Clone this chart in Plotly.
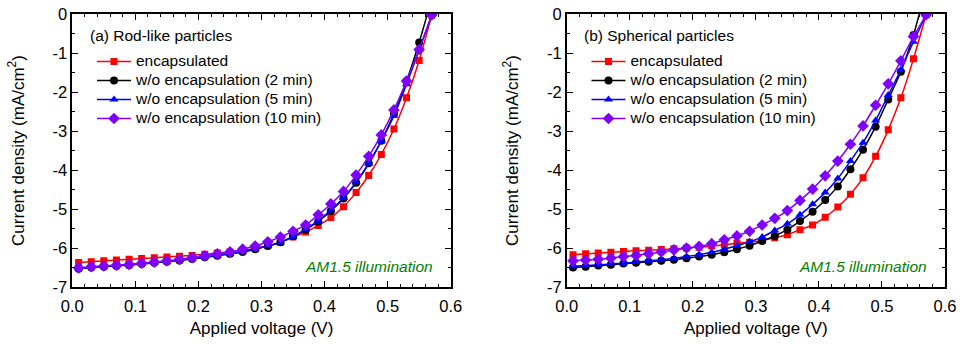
import plotly.graph_objects as go

V = [0.01, 0.03, 0.05, 0.07, 0.09, 0.11, 0.13, 0.15, 0.17, 0.19, 0.21, 0.23, 0.25, 0.27, 0.29,
     0.31, 0.33, 0.35, 0.37, 0.39, 0.41, 0.43, 0.45, 0.47, 0.49, 0.51, 0.53, 0.55, 0.57]

# (a) Rod-like particles
a_enc = [-6.37, -6.35, -6.33, -6.31, -6.29, -6.27, -6.25, -6.23, -6.21, -6.19, -6.16, -6.13, -6.10, -6.06, -6.01,
         -5.94, -5.85, -5.72, -5.59, -5.42, -5.22, -4.94, -4.58, -4.14, -3.60, -2.95, -2.15, -1.19, -0.03]
a_2min = [-6.53, -6.50, -6.48, -6.46, -6.44, -6.41, -6.38, -6.35, -6.32, -6.28, -6.24, -6.20, -6.15, -6.10, -6.03,
          -5.95, -5.85, -5.70, -5.53, -5.32, -5.05, -4.73, -4.33, -3.83, -3.25, -2.56, -1.72, -0.73, 0.40]
a_5min = [-6.52, -6.49, -6.47, -6.45, -6.43, -6.40, -6.37, -6.34, -6.31, -6.27, -6.23, -6.19, -6.14, -6.09, -6.02,
          -5.95, -5.86, -5.71, -5.52, -5.30, -5.03, -4.71, -4.31, -3.84, -3.26, -2.61, -1.80, -0.92, -0.02]
a_10min = [-6.51, -6.48, -6.46, -6.44, -6.42, -6.39, -6.36, -6.33, -6.29, -6.25, -6.20, -6.15, -6.10, -6.03, -5.95,
           -5.84, -5.72, -5.57, -5.41, -5.15, -4.87, -4.55, -4.13, -3.65, -3.10, -2.46, -1.72, -0.91, -0.02]

# (b) Spherical particles
b_enc = [-6.17, -6.15, -6.13, -6.11, -6.09, -6.07, -6.06, -6.04, -6.02, -6.00, -5.98, -5.95, -5.92, -5.88, -5.85,
         -5.81, -5.74, -5.66, -5.53, -5.41, -5.21, -4.95, -4.62, -4.20, -3.65, -2.97, -2.15, -1.15, -0.02]
b_2min = [-6.50, -6.48, -6.45, -6.43, -6.40, -6.38, -6.35, -6.33, -6.30, -6.26, -6.22, -6.17, -6.11, -6.03, -5.94,
          -5.82, -5.69, -5.53, -5.31, -5.07, -4.77, -4.42, -3.98, -3.48, -2.89, -2.19, -1.48, -0.54, 0.66]
b_5min = [-6.47, -6.45, -6.43, -6.41, -6.39, -6.36, -6.33, -6.30, -6.27, -6.22, -6.17, -6.11, -6.03, -5.94, -5.84,
          -5.72, -5.55, -5.38, -5.15, -4.88, -4.58, -4.22, -3.77, -3.30, -2.73, -2.08, -1.43, -0.71, -0.02]
b_10min = [-6.33, -6.31, -6.29, -6.26, -6.22, -6.19, -6.15, -6.10, -6.05, -6.00, -5.96, -5.89, -5.79, -5.69, -5.57,
           -5.41, -5.24, -5.04, -4.78, -4.49, -4.15, -3.77, -3.34, -2.87, -2.34, -1.79, -1.20, -0.58, -0.02]

names = ["encapsulated", "w/o encapsulation (2 min)", "w/o encapsulation (5 min)", "w/o encapsulation (10 min)"]
colors = ["#ff0000", "#000000", "#0000ff", "#8000ff"]
symbols = ["square", "circle", "triangle-up", "diamond"]
msizes = [7, 8, 8, 9]

x_ticks = [0.0, 0.1, 0.2, 0.3, 0.4, 0.5, 0.6]
x_ticktext = ["0.0", "0.1", "0.2", "0.3", "0.4", "0.5", "0.6"]
y_ticks = [0, -1, -2, -3, -4, -5, -6, -7]
y_ticktext = ["0", "-1", "-2", "-3", "-4", "-5", "-6", "-7"]

FONT = "Liberation Sans, Arial, sans-serif"

fig = go.Figure()

panels = [
    ([a_enc, a_2min, a_5min, a_10min], "x", "y", "legend"),
    ([b_enc, b_2min, b_5min, b_10min], "x2", "y2", "legend2"),
]
for series, xa, ya, lg in panels:
    for i, ys in enumerate(series):
        fig.add_trace(go.Scatter(
            x=V, y=ys, xaxis=xa, yaxis=ya,
            name='<span style="font-size:15.5px">' + names[i] + '</span>', legend=lg,
            mode="lines+markers",
            line=dict(color=colors[i], width=1.5, shape="spline", smoothing=0.6),
            marker=dict(symbol=symbols[i], size=msizes[i], color=colors[i]),
            cliponaxis=True,
        ))

W, H = 963, 344
T, B = 14, 57
PH = H - T - B
dom1 = [72.3 / W, 450.7 / W]
dom2 = [566.7 / W, 945.0 / W]

def xax(domain, anchor):
    return dict(domain=domain, anchor=anchor, range=[0, 0.6], tickvals=x_ticks, ticktext=x_ticktext,
                ticks="inside", ticklen=6, tickwidth=1.2, tickcolor="black",
                minor=dict(dtick=0.02, ticks="inside", ticklen=3, tickwidth=1, tickcolor="black"),
                showline=True, linecolor="black", linewidth=1.6, mirror="ticks",
                showgrid=False, zeroline=False, ticklabelstandoff=3,
                tickfont=dict(family=FONT, size=16.5, color="black"),
                title=dict(text="Applied voltage (V)", font=dict(family=FONT, size=17, color="black"), standoff=9),
                automargin=False)

def yax(anchor):
    return dict(domain=[0, 1], anchor=anchor, range=[-7, 0], tickvals=y_ticks, ticktext=y_ticktext,
                ticks="inside", ticklen=6, tickwidth=1.2, tickcolor="black",
                minor=dict(dtick=0.5, ticks="inside", ticklen=3, tickwidth=1, tickcolor="black"),
                showline=True, linecolor="black", linewidth=1.6, mirror="ticks",
                showgrid=False, zeroline=False,
                tickfont=dict(family=FONT, size=16.5, color="black"),
                title=dict(text="Current density (mA/cm<sup>2</sup>)", font=dict(family=FONT, size=17, color="black"), standoff=24),
                automargin=False)

legend_common = dict(bgcolor="rgba(0,0,0,0)", borderwidth=0, font=dict(family=FONT, size=12, color="black"),
                     xanchor="left", yanchor="top", tracegroupgap=0, itemsizing="trace", itemwidth=34)

fig.update_layout(
    width=W, height=H,
    margin=dict(l=0, r=0, t=T, b=B),
    paper_bgcolor="white", plot_bgcolor="white",
    xaxis=xax(dom1, "y"), yaxis=yax("x"),
    xaxis2=xax(dom2, "y2"), yaxis2=yax("x2"),
    legend=dict(x=92 / W, y=1 - (47 - T) / PH, **legend_common),
    legend2=dict(x=586.5 / W, y=1 - (47 - T) / PH, **legend_common),
    showlegend=True,
    annotations=[
        dict(text="(a) Rod-like particles", x=0.025, y=-0.56, xref="x", yref="y", xanchor="left", yanchor="middle",
             showarrow=False, font=dict(family=FONT, size=15.5, color="black")),
        dict(text="(b) Spherical particles", x=0.025, y=-0.56, xref="x2", yref="y2", xanchor="left", yanchor="middle",
             showarrow=False, font=dict(family=FONT, size=15.5, color="black")),
        dict(text="<i>AM1.5 illumination</i>", x=0.575, y=-6.48, xref="x", yref="y", xanchor="right", yanchor="middle",
             showarrow=False, font=dict(family=FONT, size=15.5, color="#008000")),
        dict(text="<i>AM1.5 illumination</i>", x=0.575, y=-6.48, xref="x2", yref="y2", xanchor="right", yanchor="middle",
             showarrow=False, font=dict(family=FONT, size=15.5, color="#008000")),
    ],
)

fig.write_html("out.html")
